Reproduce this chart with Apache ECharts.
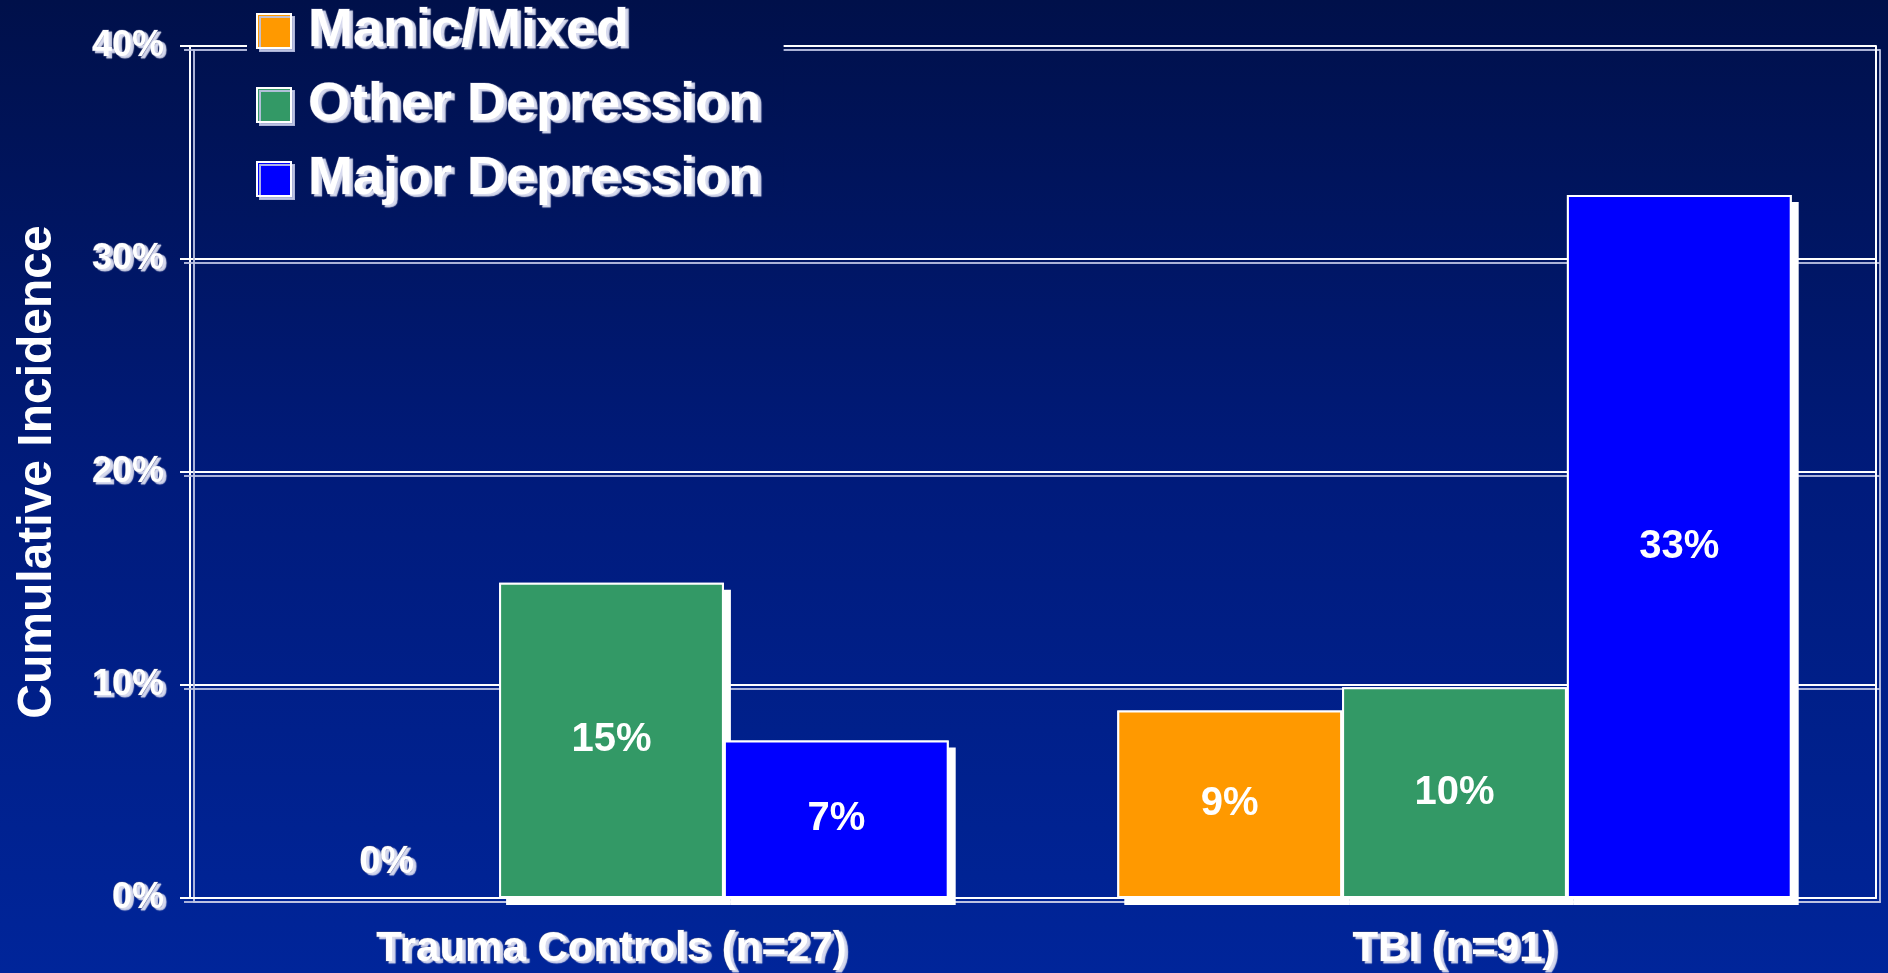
<!DOCTYPE html>
<html>
<head>
<meta charset="utf-8">
<title>Cumulative Incidence</title>
<script src="https://cdn.jsdelivr.net/npm/echarts@6/dist/echarts.min.js"></script>
<style>
  html, body { margin: 0; padding: 0; }
  body {
    width: 1888px; height: 973px; overflow: hidden;
    background: linear-gradient(to bottom, #00104a 0%, #001b7c 50%, #00259a 100%);
  }
  #chart { width: 1888px; height: 973px; }
</style>
</head>
<body>
<div id="chart"></div>
<script>
// Groups along the x axis
const categories = ['Trauma Controls (n=27)', 'TBI (n=91)'];

// Cumulative incidence (%) per group
const manicMixed = [0, 8.8];
const otherDepression = [14.8, 9.9];
const majorDepression = [7.4, 33.0];

// Value axis ticks
const yTicks = [0, 10, 20, 30, 40];

const seriesNames = ['Manic/Mixed', 'Other Depression', 'Major Depression'];
const seriesColors = ['#ff9900', '#339966', '#0000ff'];
const seriesData = [manicMixed, otherDepression, majorDepression];

const FONT = "'Liberation Sans', Arial, Helvetica, sans-serif";

// "Embossed" white text with a pale offset copy
const ghost = {
  color: '#ffffff',
  fontFamily: FONT,
  fontWeight: 'bold',
  textBorderColor: 'rgba(70,80,130,0.9)',
  textBorderWidth: 1,
  textShadowColor: 'rgba(215,218,238,1)',
  textShadowBlur: 1,
  textShadowOffsetX: 3,
  textShadowOffsetY: 2
};

// Doubled rule look: white line with a pale offset line
const ruleStyle = {
  color: '#ffffff',
  width: 2,
  shadowColor: 'rgba(190,196,228,0.9)',
  shadowBlur: 0,
  shadowOffsetX: 4,
  shadowOffsetY: 4
};

const barLayout = { barGap: 0, barCategoryGap: '20%' };

// Lower layer: white drop shadow of each bar (fill only, so no inner stroke shadow)
const shadowSeries = seriesNames.map(function (name, i) {
  return Object.assign({
    name: name + ' (drop)',
    type: 'bar',
    xAxisIndex: 1,
    yAxisIndex: 0,
    silent: true,
    data: seriesData[i],
    itemStyle: {
      color: '#ffffff',
      borderWidth: 0,
      shadowColor: '#ffffff',
      shadowBlur: 0,
      shadowOffsetX: 7,
      shadowOffsetY: 7
    },
    label: { show: false }
  }, barLayout);
});

// Upper layer: coloured bars with a white outline and value labels
const mainSeries = seriesNames.map(function (name, i) {
  return Object.assign({
    name: name,
    type: 'bar',
    xAxisIndex: 0,
    yAxisIndex: 0,
    data: seriesData[i].map(function (v) {
      if (v === 0) {
        return {
          value: v,
          itemStyle: { borderWidth: 0 },
          label: Object.assign({ position: 'top', distance: 16, fontSize: 38 }, ghost)
        };
      }
      return v;
    }),
    itemStyle: {
      color: seriesColors[i],
      borderColor: '#ffffff',
      borderWidth: 2
    },
    label: {
      show: true,
      position: 'inside',
      color: '#ffffff',
      fontFamily: FONT,
      fontWeight: 'bold',
      fontSize: 40,
      formatter: function (p) { return Math.round(p.value) + '%'; }
    }
  }, barLayout);
});

const chart = echarts.init(document.getElementById('chart'), null, { renderer: 'canvas' });

chart.setOption({
  backgroundColor: 'transparent',
  animation: false,
  grid: { left: 190, right: 12, top: 46, bottom: 75, containLabel: false },
  legend: {
    orient: 'vertical',
    left: 247,
    top: 0,
    padding: [0, 22, 8, 9],
    itemGap: 12,
    itemWidth: 34,
    itemHeight: 34,
    icon: 'rect',
    selectedMode: false,
    backgroundColor: {
      type: 'linear', x: 0, y: 0, x2: 0, y2: 1,
      colorStops: [{ offset: 0, color: '#00104a' }, { offset: 1, color: '#001560' }]
    },
    itemStyle: {
      borderColor: '#ffffff',
      borderWidth: 2,
      shadowColor: 'rgba(190,196,228,0.9)',
      shadowBlur: 0,
      shadowOffsetX: 3,
      shadowOffsetY: 3
    },
    textStyle: Object.assign({ fontSize: 54, lineHeight: 52, padding: [10, 0, 0, 12] }, ghost),
    data: seriesNames
  },
  xAxis: [
    {
      type: 'category',
      data: categories,
      axisLine: { show: true, lineStyle: ruleStyle },
      axisTick: { show: false },
      axisLabel: Object.assign({ fontSize: 42, margin: 30 }, ghost)
    },
    {
      type: 'category',
      data: categories,
      show: false
    }
  ],
  yAxis: [
    {
      type: 'value',
      min: 0,
      max: 40,
      interval: 10,
      name: 'Cumulative Incidence',
      nameLocation: 'middle',
      nameRotate: 90,
      nameGap: 128,
      nameTextStyle: { color: '#ffffff', fontFamily: FONT, fontWeight: 'bold', fontSize: 48 },
      axisLine: { show: true, lineStyle: ruleStyle },
      axisTick: { show: true, length: 10, lineStyle: ruleStyle },
      splitLine: { show: true, lineStyle: ruleStyle },
      axisLabel: Object.assign({
        fontSize: 36,
        margin: 26,
        customValues: yTicks,
        formatter: function (v) { return v + '%'; }
      }, ghost)
    },
    {
      type: 'value',
      position: 'right',
      min: 0,
      max: 40,
      interval: 10,
      axisLine: { show: true, lineStyle: ruleStyle },
      axisTick: { show: false },
      axisLabel: { show: false },
      splitLine: { show: false }
    }
  ],
  series: shadowSeries.concat(mainSeries)
});
</script>
</body>
</html>
